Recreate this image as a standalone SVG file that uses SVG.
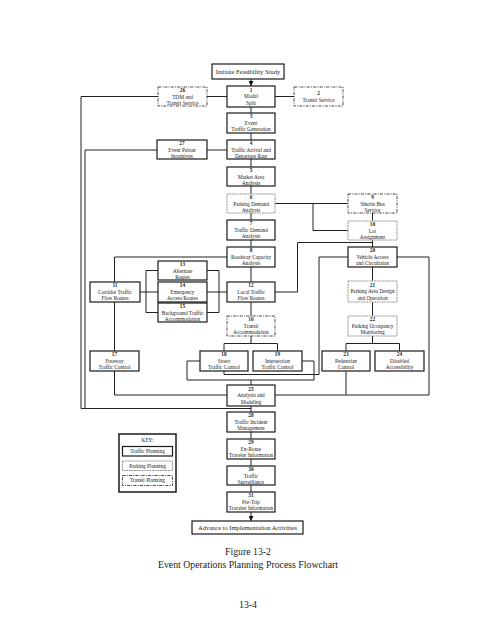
<svg xmlns="http://www.w3.org/2000/svg" width="495" height="640" viewBox="0 0 495 640">
<style>
text{font-family:"Liberation Serif","Times New Roman",serif;fill:#1a1a1a;text-anchor:middle;font-size:5.3px}
.b{font-weight:bold}
.big{font-size:6.5px}
.cap{font-size:9.8px}
rect{fill:#fff}
.t{stroke:#1a1a1a;stroke-width:1.2}
.p{stroke:#9a9a9a;stroke-width:1;stroke-dasharray:2,0.6}
.r{stroke:#333;stroke-width:0.9;stroke-dasharray:3,1.2,1,1.2}
.k{stroke:#1a1a1a;stroke-width:1.5}
#connectors path{fill:none;stroke:#222;stroke-width:1}
</style>
<defs>
<marker id="ah" markerUnits="userSpaceOnUse" markerWidth="5" markerHeight="5" refX="5" refY="2.5" orient="auto">
<path d="M0,0 L5,2.5 L0,5 z" fill="#111"/>
</marker>
</defs>
<rect x="0" y="0" width="495" height="640" fill="#fff"/>
<g id="connectors">
<path d="M251,79 V86" marker-end="url(#ah)"/>
<path d="M207,96.5 H227"/>
<path d="M275,96.5 H294"/>
<path d="M158,96.5 H81 V408.5 H251"/>
<path d="M157,150 H85 V408.5"/>
<path d="M207,150 H227"/>
<path d="M251,106 V316"/>
<path d="M275,203.5 H348"/>
<path d="M313,203.5 V230.5 H348"/>
<path d="M372.5,213 V316"/>
<path d="M275,292 H297.5 V242.5 H372.5"/>
<path d="M227,257 H114.5 V282"/>
<path d="M114.5,302 V351"/>
<path d="M140,292 H158"/>
<path d="M207,292 H227"/>
<path d="M158,270.5 H146 V312.5 H158"/>
<path d="M207,270.5 H219 V312.5 H207"/>
<path d="M251,336 V343.5"/>
<path d="M224,351 V343.5 H277.5 V351"/>
<path d="M372.5,336 V343.5"/>
<path d="M346,351 V343.5 H399.5 V351"/>
<path d="M200,361 H187 V380 H314 V361 H302"/>
<path d="M251,380 V385"/>
<path d="M348,257 H319 V374.5 H224 V371"/>
<path d="M397,257 H429 V395 H275"/>
<path d="M346,371 V395"/>
<path d="M114.5,371 V395 H227"/>
<path d="M251,406 V492"/>
<path d="M251,512 V521" marker-end="url(#ah)"/>
</g>
<g id="init"><rect class="t" x="212" y="64" width="72" height="15"/><text class="big" x="248" y="74">Initiate Feasibility Study</text></g>
<g id="n1"><rect class="t" x="227" y="86" width="48" height="21"/><text class="b" x="251" y="91.6">1</text><text x="251" y="98.3">Modal</text><text x="251" y="105">Split</text></g>
<g id="n26"><rect class="r" x="158" y="87" width="49" height="19"/><text class="b" x="182.5" y="92">26</text><text x="182.5" y="98.5">TDM and</text><text x="182.5" y="105">Transit Service</text></g>
<g id="n2"><rect class="r" x="294" y="87" width="49" height="19"/><text class="b" x="318.5" y="95">2</text><text x="318.5" y="101.5">Transit Service</text></g>
<g id="n3"><rect class="t" x="227" y="113" width="48" height="20"/><text class="b" x="251" y="118.3">3</text><text x="251" y="124.8">Event</text><text x="251" y="131.3">Traffic Generation</text></g>
<g id="n27"><rect class="t" x="157" y="140" width="50" height="19"/><text class="b" x="182" y="145.2">27</text><text x="182" y="151.6">Event Patron</text><text x="182" y="158">Incentives</text></g>
<g id="n4"><rect class="t" x="227" y="140" width="48" height="19"/><text class="b" x="251" y="145.2">4</text><text x="251" y="151.6">Traffic Arrival and</text><text x="251" y="158">Departure Rate</text></g>
<g id="n5"><rect class="t" x="227" y="167" width="48" height="19"/><text class="b" x="251" y="172.2">5</text><text x="251" y="178.6">Market Area</text><text x="251" y="185">Analysis</text></g>
<g id="n6"><rect class="p" x="227" y="194" width="48" height="19"/><text class="b" x="251" y="199.2">6</text><text x="251" y="205.6">Parking Demand</text><text x="251" y="212">Analysis</text></g>
<g id="n9"><rect class="r" x="348" y="194" width="49" height="19"/><text class="b" x="372.5" y="199.2">9</text><text x="372.5" y="205.6">Shuttle Bus</text><text x="372.5" y="212">Service</text></g>
<g id="n7"><rect class="t" x="227" y="220" width="48" height="20"/><text class="b" x="251" y="225.3">7</text><text x="251" y="231.8">Traffic Demand</text><text x="251" y="238.3">Analysis</text></g>
<g id="n10"><rect class="p" x="348" y="221" width="49" height="19"/><text class="b" x="372.5" y="226.2">10</text><text x="372.5" y="232.6">Lot</text><text x="372.5" y="239">Assignment</text></g>
<g id="n8"><rect class="t" x="227" y="247" width="48" height="20"/><text class="b" x="251" y="252.3">8</text><text x="251" y="258.8">Roadway Capacity</text><text x="251" y="265.3">Analysis</text></g>
<g id="n20"><rect class="t" x="348" y="247" width="49" height="20"/><text class="b" x="372.5" y="252.3">20</text><text x="372.5" y="258.8">Vehicle Access</text><text x="372.5" y="265.3">and Circulation</text></g>
<g id="n13"><rect class="t" x="158" y="261" width="49" height="19"/><text class="b" x="182.5" y="266.2">13</text><text x="182.5" y="272.6">Alternate</text><text x="182.5" y="279">Routes</text></g>
<g id="n11"><rect class="t" x="90" y="282" width="50" height="20"/><text class="b" x="115" y="287.3">11</text><text x="115" y="293.8">Corridor Traffic</text><text x="115" y="300.3">Flow Routes</text></g>
<g id="n14"><rect class="t" x="158" y="282" width="49" height="20"/><text class="b" x="182.5" y="287.3">14</text><text x="182.5" y="293.8">Emergency</text><text x="182.5" y="300.3">Access Routes</text></g>
<g id="n12"><rect class="t" x="227" y="282" width="48" height="20"/><text class="b" x="251" y="287.3">12</text><text x="251" y="293.8">Local Traffic</text><text x="251" y="300.3">Flow Routes</text></g>
<g id="n21"><rect class="p" x="348" y="281" width="49" height="21"/><text class="b" x="372.5" y="286.6">21</text><text x="372.5" y="293.3">Parking Area Design</text><text x="372.5" y="300">and Operation</text></g>
<g id="n15"><rect class="t" x="158" y="303" width="49" height="19"/><text class="b" x="182.5" y="308.2">15</text><text x="182.5" y="314.6">Background Traffic</text><text x="182.5" y="321">Accommodation</text></g>
<g id="n16"><rect class="r" x="227" y="316" width="48" height="20"/><text class="b" x="251" y="321.3">16</text><text x="251" y="327.8">Transit</text><text x="251" y="334.3">Accommodation</text></g>
<g id="n22"><rect class="p" x="348" y="316" width="49" height="20"/><text class="b" x="372.5" y="321.3">22</text><text x="372.5" y="327.8">Parking Occupancy</text><text x="372.5" y="334.3">Monitoring</text></g>
<g id="n17"><rect class="t" x="90" y="351" width="49" height="20"/><text class="b" x="114.5" y="356.3">17</text><text x="114.5" y="362.8">Freeway</text><text x="114.5" y="369.3">Traffic Control</text></g>
<g id="n18"><rect class="t" x="200" y="351" width="48" height="20"/><text class="b" x="224" y="356.3">18</text><text x="224" y="362.8">Street</text><text x="224" y="369.3">Traffic Control</text></g>
<g id="n19"><rect class="t" x="253" y="351" width="49" height="20"/><text class="b" x="277.5" y="356.3">19</text><text x="277.5" y="362.8">Intersection</text><text x="277.5" y="369.3">Traffic Control</text></g>
<g id="n23"><rect class="t" x="322" y="351" width="48" height="20"/><text class="b" x="346" y="356.3">23</text><text x="346" y="362.8">Pedestrian</text><text x="346" y="369.3">Control</text></g>
<g id="n24"><rect class="t" x="375" y="351" width="49" height="20"/><text class="b" x="399.5" y="356.3">24</text><text x="399.5" y="362.8">Disabled</text><text x="399.5" y="369.3">Accessibility</text></g>
<g id="n25"><rect class="t" x="227" y="385" width="48" height="21"/><text class="b" x="251" y="390.6">25</text><text x="251" y="397.3">Analysis and</text><text x="251" y="404">Modeling</text></g>
<g id="n28"><rect class="t" x="227" y="412" width="48" height="20"/><text class="b" x="251" y="417.3">28</text><text x="251" y="423.8">Traffic Incident</text><text x="251" y="430.3">Management</text></g>
<g id="n29"><rect class="t" x="227" y="439" width="48" height="20"/><text class="b" x="251" y="444.3">29</text><text x="251" y="450.8">En-Route</text><text x="251" y="457.3">Traveler Information</text></g>
<g id="n30"><rect class="t" x="227" y="466" width="48" height="19"/><text class="b" x="251" y="471.2">30</text><text x="251" y="477.6">Traffic</text><text x="251" y="484">Surveillance</text></g>
<g id="n31"><rect class="t" x="227" y="492" width="48" height="20"/><text class="b" x="251" y="497.3">31</text><text x="251" y="503.8">Pre-Trip</text><text x="251" y="510.3">Traveler Information</text></g>
<g id="adv"><rect class="t" x="192" y="521" width="111" height="13"/><text class="big" x="247.5" y="530">Advance to Implementation Activities</text></g>
<g id="key">
<rect class="k" x="119" y="434" width="57" height="58"/>
<text x="147.5" y="442">KEY:</text>
<rect class="t" x="122.5" y="446.5" width="50" height="9.5"/><text x="147.5" y="453.2">Traffic Planning</text>
<rect class="p" x="122.5" y="461" width="50" height="9.5"/><text x="147.5" y="467.7">Parking Planning</text>
<rect class="r" x="122.5" y="475.5" width="50" height="10"/><text x="147.5" y="482.4">Transit Planning</text>
</g>
<g id="caption">
<text class="cap" x="248" y="555">Figure 13-2</text>
<text class="cap" x="248" y="568">Event Operations Planning Process Flowchart</text>
<text class="cap" x="248" y="608">13-4</text>
</g>
</svg>
